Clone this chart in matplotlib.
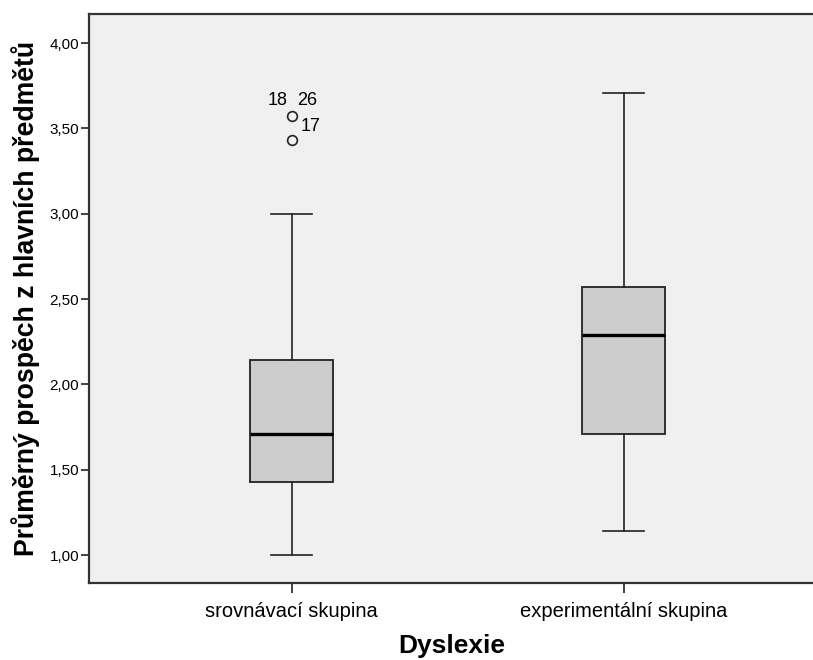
import matplotlib
matplotlib.use("Agg")
import matplotlib.pyplot as plt
from matplotlib.ticker import FuncFormatter

plt.rcParams['font.family'] = ['Liberation Sans', 'DejaVu Sans']

# Group summaries (average grade in main subjects)
groups = ["srovnávací skupina", "experimentální skupina"]
q1 = [1.43, 1.71]
median = [1.71, 2.29]
q3 = [2.14, 2.57]
whisker_low = [1.00, 1.14]
whisker_high = [3.00, 3.71]
outliers = [[3.57, 3.43], []]
outlier_labels = [["18", "26", "17"], []]
yticks = [1.0, 1.5, 2.0, 2.5, 3.0, 3.5, 4.0]

fig = plt.figure(figsize=(8.13, 6.60), dpi=100)
ax = fig.add_axes([89/813, 77/660, 1 - 89/813 + 0.002, (583 - 14)/660])
ax.set_facecolor('#F0F0F0')

stats = []
for i in range(len(groups)):
    stats.append(dict(med=median[i], q1=q1[i], q3=q3[i],
                      whislo=whisker_low[i], whishi=whisker_high[i],
                      fliers=outliers[i], label=groups[i]))

edge = '#222222'
ax.bxp(stats, positions=[0, 1], widths=0.25, patch_artist=True,
       showfliers=True,
       boxprops=dict(facecolor='#CCCCCC', edgecolor=edge, linewidth=1.3),
       medianprops=dict(color='black', linewidth=2.4),
       whiskerprops=dict(color=edge, linewidth=1.2),
       capprops=dict(color=edge, linewidth=1.2),
       capwidths=0.125,
       flierprops=dict(marker='o', markerfacecolor='none', markeredgecolor=edge,
                       markersize=7, markeredgewidth=1.2))

# Case numbers beside the outliers
ax.text(-0.012, 3.665, outlier_labels[0][0], fontsize=13, ha='right', va='center')
ax.text(0.016, 3.665, outlier_labels[0][1], fontsize=13, ha='left', va='center')
ax.text(0.026, 3.51, outlier_labels[0][2], fontsize=13, ha='left', va='center')

ax.set_xlim(-0.61, 1.575)
ax.set_ylim(0.836, 4.17)
ax.set_yticks(yticks)
ax.yaxis.set_major_formatter(FuncFormatter(lambda v, p: f"{v:.2f}".replace('.', ',')))
ax.set_xticks([0, 1])
ax.set_xticklabels(groups, fontsize=14.5)
ax.tick_params(axis='y', labelsize=11, length=6, width=1.2, color=edge, pad=1)
ax.tick_params(axis='x', length=7, width=1.2, color=edge, pad=7)

for side in ['left', 'top', 'bottom']:
    ax.spines[side].set_color('#333333')
    ax.spines[side].set_linewidth(1.6)
ax.spines['right'].set_visible(False)

ax.set_ylabel("Průměrný prospěch z hlavních předmětů", fontsize=19.2, fontweight='bold', labelpad=7)
ax.set_xlabel("Dyslexie", fontsize=19, fontweight='bold', labelpad=9)

fig.savefig("out.png", dpi=100)
